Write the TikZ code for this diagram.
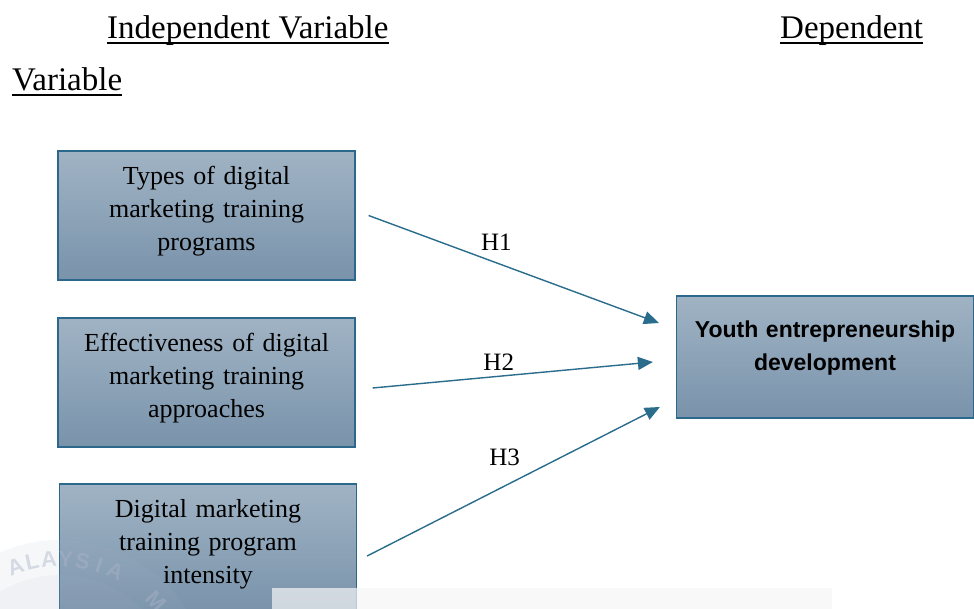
\documentclass[tikz,border=0pt]{standalone}
\usepackage{fontspec}
\setmainfont{Liberation Serif}
\setsansfont{Liberation Sans}
\usepackage{xcolor}
\usetikzlibrary{arrows.meta}
\definecolor{boxtop}{RGB}{160,179,196}
\definecolor{boxbot}{RGB}{121,147,171}
\definecolor{edgeblue}{RGB}{44,104,140}
\definecolor{arrowblue}{RGB}{42,108,140}
\definecolor{markgray}{RGB}{170,180,200}

\begin{document}
\begin{tikzpicture}[x=1pt,y=-1pt,
      heading/.style={anchor=base west,inner sep=0pt,font=\fontsize{33}{38}\selectfont},
      varbox/.style={draw=edgeblue,line width=1.2pt,top color=boxtop,bottom color=boxbot,
        minimum width=297pt,minimum height=129pt,text width=280pt,align=center,
        inner sep=0pt,text depth=80pt,font=\fontsize{26}{33}\selectfont},
      link/.style={draw=arrowblue,line width=1.4pt,-{Triangle[length=15pt,width=13pt]}},
      hlabel/.style={inner sep=0pt,font=\fontsize{25}{30}\selectfont}
    ]
    \useasboundingbox (0,0) rectangle (974,609);

    % headings
    \node[heading] (indep) at (107,39) {Independent Variable};
    \node[heading] (dep) at (780,39) {Dependent};
    \node[heading] (var) at (12,91) {Variable};
    \foreach \h in {indep,dep,var}{
      \draw[line width=2pt] ([yshift=-4pt]\h.base west) -- ([yshift=-4pt]\h.base east);
    }

    % boxes
    \node[varbox] (types) at (206.5,215.5) {Types of digital\\ marketing training\\ programs};
    \node[varbox] (effect) at (206.5,382.5) {Effectiveness of digital\\ marketing training\\ approaches};
    \node[varbox] (intensity) at (208,548.5) {Digital marketing\\ training program\\ intensity};
    \node[varbox,minimum height=122pt,text depth=56pt,
      font=\sffamily\bfseries\fontsize{23}{33}\selectfont] (youth) at (825,357)
      {Youth entrepreneurship\\ development};

    % hypotheses
    \draw[link] ([xshift=13pt]types.east) -- node[pos=0.44,above=11.5pt,hlabel]{H1}
      ([xshift=-17pt,yshift=34pt]youth.west);
    \draw[link] ([xshift=17pt,yshift=-5.5pt]effect.east) -- node[pos=0.45,above=5.5pt,hlabel]{H2}
      ([xshift=-23pt,yshift=-5pt]youth.west);
    \draw[link] ([xshift=10pt,yshift=-7.5pt]intensity.east) -- node[pos=0.47,above=19.5pt,hlabel]{H3}
      ([xshift=-16pt,yshift=-50pt]youth.west);

    % faint stamp at the bottom
    \fill[markgray,opacity=0.1] (60,690) circle (150pt);
    \fill[markgray,opacity=0.1] (60,690) circle (115pt);
    \foreach \ch/\i in {A/0,L/1,A/2,Y/3,S/4,I/5,A/6,M/9}{
      \node[text=markgray,opacity=0.45,font=\sffamily\bfseries\fontsize{22}{22}\selectfont,
        rotate={19.8-7.45*\i}] at ({60+131*cos(109.8-7.45*\i)},{690-131*sin(109.8-7.45*\i)}) {\ch};
    }
    \fill[gray!8,opacity=0.7] (272,588) rectangle (832,609);
  \end{tikzpicture}
\end{document}
